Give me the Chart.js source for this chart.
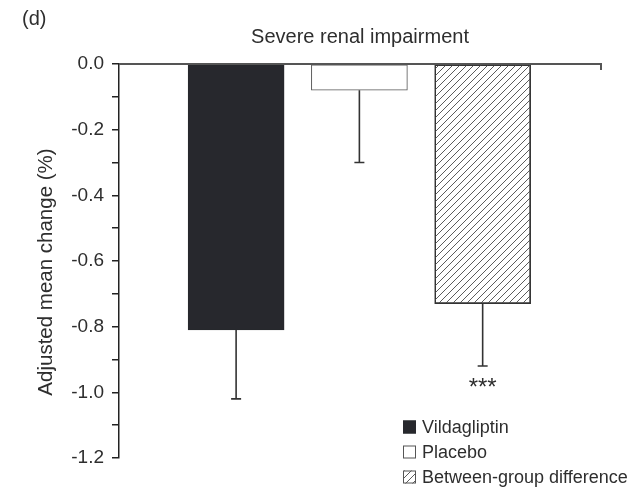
<!DOCTYPE html>
<html>
<head>
<meta charset="utf-8">
<script src="https://cdn.jsdelivr.net/npm/chart.js@4.4.1/dist/chart.umd.min.js"></script>
<style>
  html, body { margin: 0; padding: 0; background: #fff; }
  #wrap { width: 629px; height: 494px; }
</style>
</head>
<body>
<div id="wrap"><canvas id="c" width="629" height="494"></canvas></div>
<script>
// Panel (d): adjusted mean change, severe renal impairment
const categories = ['Vildagliptin', 'Placebo', 'Between-group difference'];
const meanChange = [-0.81, -0.08, -0.73];
const standardError = [0.21, 0.22, 0.19];
const significance = ['', '', '***'];
const yTickLabels = ['0.0', '-0.2', '-0.4', '-0.6', '-0.8', '-1.0', '-1.2'];
const panelLabel = '(d)';
const chartTitle = 'Severe renal impairment';
const yAxisTitle = 'Adjusted mean change (%)';

const FONT = '"Liberation Sans", Arial, Helvetica, sans-serif';
const INK = '#2e2e2e';

const canvas = document.getElementById('c');
const mainCtx = canvas.getContext('2d');

// Diagonal "/" hatching for the between-group bar
function makeHatch() {
  const s = 7;
  const t = document.createElement('canvas');
  t.width = s; t.height = s;
  const g = t.getContext('2d');
  g.strokeStyle = '#4a4a4a';
  g.lineWidth = 0.9;
  g.beginPath();
  g.moveTo(0, s); g.lineTo(s, 0);
  g.moveTo(-1, 1); g.lineTo(1, -1);
  g.moveTo(s - 1, s + 1); g.lineTo(s + 1, s - 1);
  g.stroke();
  return mainCtx.createPattern(t, 'repeat');
}
const hatch = makeHatch();

const fills = ['#27282d', '#ffffff', hatch];
const borders = ['#27282d', '#555555', '#333333'];

const extras = {
  id: 'extras',
  afterDatasetsDraw(chart) {
    const { ctx, chartArea, scales } = chart;
    const y = scales.y;
    const meta = chart.getDatasetMeta(0);
    ctx.save();

    // zero reference line across the top with a short end tick
    const y0 = y.getPixelForValue(0);
    ctx.strokeStyle = '#555';
    ctx.lineWidth = 2;
    ctx.beginPath();
    ctx.moveTo(chartArea.left, y0);
    ctx.lineTo(chartArea.right, y0);
    ctx.lineTo(chartArea.right, y0 + 6);
    ctx.stroke();

    // one-sided (downward) error bars and significance marks
    ctx.strokeStyle = '#333';
    ctx.lineWidth = 1.6;
    meta.data.forEach((bar, i) => {
      const xc = bar.x;
      const yTop = y.getPixelForValue(meanChange[i]);
      const yEnd = y.getPixelForValue(meanChange[i] - standardError[i]);
      ctx.beginPath();
      ctx.moveTo(xc, yTop);
      ctx.lineTo(xc, yEnd);
      ctx.moveTo(xc - 5, yEnd);
      ctx.lineTo(xc + 5, yEnd);
      ctx.stroke();
      if (significance[i]) {
        ctx.fillStyle = INK;
        ctx.font = '24px ' + FONT;
        ctx.textAlign = 'center';
        ctx.textBaseline = 'alphabetic';
        ctx.fillText(significance[i], xc, yEnd + 29);
      }
    });

    // panel label and title
    ctx.fillStyle = INK;
    ctx.textBaseline = 'alphabetic';
    ctx.font = '20px ' + FONT;
    ctx.textAlign = 'left';
    ctx.fillText(panelLabel, 22, 25);
    ctx.textAlign = 'center';
    ctx.fillText(chartTitle, 360, 43);

    // y-axis title
    ctx.save();
    ctx.translate(46, 272);
    ctx.rotate(-Math.PI / 2);
    ctx.textBaseline = 'middle';
    ctx.textAlign = 'center';
    ctx.font = '20.5px ' + FONT;
    ctx.fillText(yAxisTitle, 0, 0);
    ctx.restore();

    // legend
    const lx = 403, size = 13, rows = [427, 452, 477];
    ctx.font = '18px ' + FONT;
    ctx.textAlign = 'left';
    ctx.textBaseline = 'middle';
    categories.forEach((name, i) => {
      const cy = rows[i];
      ctx.fillStyle = fills[i];
      ctx.fillRect(lx, cy - size / 2, size, size);
      ctx.strokeStyle = i === 0 ? '#27282d' : '#555';
      ctx.lineWidth = 1;
      ctx.strokeRect(lx + 0.5, cy - size / 2 + 0.5, size - 1, size - 1);
      ctx.fillStyle = INK;
      ctx.fillText(name, lx + size + 6, cy + 1);
    });

    ctx.restore();
  }
};

new Chart(canvas, {
  type: 'bar',
  data: {
    labels: categories,
    datasets: [{
      data: meanChange.map((v, i) => ({ x: i, y: v })),
      backgroundColor: fills,
      borderColor: borders,
      borderWidth: 1,
      borderSkipped: false,
      barThickness: 96
    }]
  },
  options: {
    responsive: false,
    animation: false,
    devicePixelRatio: 1,
    layout: { padding: { left: 0, top: 64, right: 28, bottom: 36 } },
    plugins: {
      legend: { display: false },
      title: { display: false },
      tooltip: { enabled: false }
    },
    scales: {
      x: {
        type: 'linear',
        display: false,
        offset: false,
        min: -0.95,
        max: 2.96
      },
      y: {
        min: -1.2,
        max: 0,
        afterFit(scale) { scale.width = 119; },
        ticks: {
          stepSize: 0.1,
          padding: 8,
          color: INK,
          font: { family: FONT, size: 19 },
          callback(v) {
            const s = (Math.round(v * 10) / 10).toFixed(1);
            const label = s === '-0.0' ? '0.0' : s;
            return yTickLabels.includes(label) ? label : '';
          }
        },
        grid: {
          drawOnChartArea: false,
          drawTicks: true,
          tickLength: 7,
          color: '#222',
          lineWidth: 1.5
        },
        border: { display: true, color: '#222', width: 1.5 }
      }
    }
  },
  plugins: [extras]
});
</script>
</body>
</html>
